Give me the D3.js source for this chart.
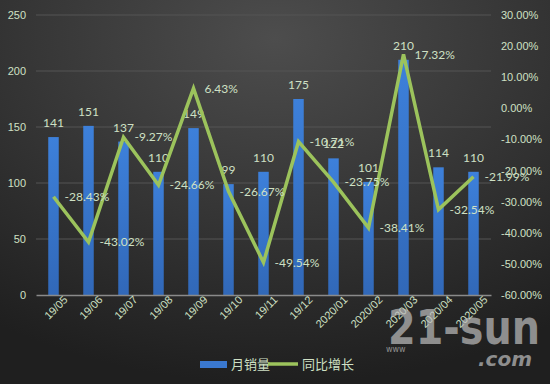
<!DOCTYPE html>
<html>
<head>
<meta charset="utf-8">
<script src="https://cdn.jsdelivr.net/npm/d3@7"></script>
<style>
  html, body { margin: 0; padding: 0; background: #2a2a2a; }
  svg { display: block; font-family: Lato, "Noto Sans CJK SC", sans-serif; }
</style>
</head>
<body>
<div id="chart"></div>
<script>
// data
const months = ["19/05", "19/06", "19/07", "19/08", "19/09", "19/10", "19/11", "19/12",
                "2020/01", "2020/02", "2020/03", "2020/04", "2020/05"];
const sales = [141, 151, 137, 110, 149, 99, 110, 175, 122, 101, 210, 114, 110];
const growth = [-28.43, -43.02, -9.27, -24.66, 6.43, -26.67, -49.54, -10.71, -23.75, -38.41, 17.32, -32.54, -21.99];
const leftTicks = [0, 50, 100, 150, 200, 250];
const rightTicks = [30, 20, 10, 0, -10, -20, -30, -40, -50, -60];
const legendNames = ["月销量", "同比增长"];

const W = 550, H = 384;
const margin = { top: 15, right: 59, bottom: 89, left: 36 },
    width = W - margin.left - margin.right,
    height = H - margin.top - margin.bottom;

const txt = "#cfe0c4";
const barColor = "#3a78cf";
const lineColor = "#9cc35c";

const root = d3.select("#chart").append("svg")
    .attr("width", W)
    .attr("height", H);

// background gradient
const defs = root.append("defs");
const bg = defs.append("radialGradient")
    .attr("id", "bg")
    .attr("cx", "50%").attr("cy", "10%").attr("r", "90%");
bg.append("stop").attr("offset", "0%").attr("stop-color", "#4d4d4d");
bg.append("stop").attr("offset", "100%").attr("stop-color", "#1f1f1f");
const barGrad = defs.append("linearGradient")
    .attr("id", "barGrad").attr("x1", 0).attr("x2", 0).attr("y1", 0).attr("y2", 1);
barGrad.append("stop").attr("offset", "0%").attr("stop-color", "#3d80da");
barGrad.append("stop").attr("offset", "100%").attr("stop-color", "#3168b8");

root.append("rect").attr("width", W).attr("height", H).attr("fill", "url(#bg)");

const svg = root.append("g")
    .attr("transform", `translate(${margin.left},${margin.top})`);

const x = d3.scaleBand().domain(months).range([0, width]).padding(0);
const y = d3.scaleLinear().domain([0, 250]).range([height, 0]);
const y2 = d3.scaleLinear().domain([-60, 30]).range([height, 0]);

// grid lines
svg.append("g")
    .selectAll("line")
    .data(leftTicks.filter(d => d > 0))
    .join("line")
    .attr("x1", 0).attr("x2", width)
    .attr("y1", d => y(d)).attr("y2", d => y(d))
    .attr("stroke", "#555")
    .attr("stroke-width", 1);

// left axis
const yAxis = svg.append("g")
    .call(d3.axisLeft(y).tickValues(leftTicks).tickSize(0).tickPadding(10));
yAxis.select(".domain").remove();
yAxis.selectAll("text").attr("fill", txt).attr("font-size", "11px");

// right axis
const yAxis2 = svg.append("g")
    .attr("transform", `translate(${width},0)`)
    .call(d3.axisRight(y2).tickValues(rightTicks).tickSize(0).tickPadding(10)
        .tickFormat(d => d.toFixed(2) + "%"));
yAxis2.select(".domain").remove();
yAxis2.selectAll("text").attr("fill", txt).attr("font-size", "11px");

// bars
const barW = x.bandwidth() * 0.3;
svg.append("g")
    .selectAll("rect")
    .data(sales)
    .join("rect")
    .attr("x", (d, i) => x(months[i]) + (x.bandwidth() - barW) / 2)
    .attr("y", d => y(d))
    .attr("width", barW)
    .attr("height", d => height - y(d))
    .attr("fill", "url(#barGrad)");

// x axis
const xAxis = svg.append("g")
    .attr("transform", `translate(0,${height})`)
    .call(d3.axisBottom(x).tickSize(0).tickPadding(10));
xAxis.select(".domain").attr("stroke", "#8a8a8a").attr("stroke-width", 1.5);
xAxis.selectAll("text")
    .attr("fill", txt)
    .attr("font-size", "11px")
    .attr("text-anchor", "end")
    .attr("dx", "0.6em")
    .attr("dy", "0.4em")
    .attr("transform", "rotate(-45)");

// bar labels
svg.append("g")
    .selectAll("text")
    .data(sales)
    .join("text")
    .attr("x", (d, i) => x(months[i]) + x.bandwidth() / 2)
    .attr("y", d => y(d) - 10)
    .attr("text-anchor", "middle")
    .attr("fill", txt)
    .attr("font-size", "12px")
    .text(d => d);

// growth line
const line = d3.line()
    .x((d, i) => x(months[i]) + x.bandwidth() / 2)
    .y(d => y2(d));
svg.append("path")
    .datum(growth)
    .attr("fill", "none")
    .attr("stroke", lineColor)
    .attr("stroke-width", 3.5)
    .attr("stroke-linejoin", "miter")
    .attr("d", line);

// growth labels
svg.append("g")
    .selectAll("text")
    .data(growth)
    .join("text")
    .attr("x", (d, i) => x(months[i]) + x.bandwidth() / 2 + 11)
    .attr("y", d => y2(d))
    .attr("dy", "0.35em")
    .attr("fill", txt)
    .attr("font-size", "12px")
    .text(d => d.toFixed(2) + "%");

// watermark
const wm = root.append("g").attr("fill", "#bdbdbd").attr("opacity", 0.7);
wm.append("text")
    .attr("x", 388).attr("y", 344)
    .attr("font-size", "48px")
    .attr("font-weight", "bold")
    .attr("textLength", 152)
    .attr("lengthAdjust", "spacingAndGlyphs")
    .attr("font-family", "'DejaVu Sans', sans-serif")
    .text("21-sun");
wm.append("text")
    .attr("x", 386).attr("y", 352)
    .attr("font-size", "8px")
    .attr("font-family", "'DejaVu Sans', sans-serif")
    .text("www");
wm.append("text")
    .attr("x", 478).attr("y", 366)
    .attr("font-size", "20px")
    .attr("font-style", "italic")
    .attr("font-weight", "bold")
    .attr("font-family", "'DejaVu Sans', sans-serif")
    .text(".com");

// legend
const legend = root.append("g").attr("transform", "translate(200,364)");
legend.append("rect")
    .attr("x", 0).attr("y", -3)
    .attr("width", 27).attr("height", 7)
    .attr("fill", barColor);
legend.append("text")
    .attr("x", 31).attr("y", 0).attr("dy", "0.35em")
    .attr("fill", txt).attr("font-size", "13px")
    .text(legendNames[0]);
legend.append("line")
    .attr("x1", 68).attr("x2", 98)
    .attr("y1", 0).attr("y2", 0)
    .attr("stroke", lineColor).attr("stroke-width", 3.5);
legend.append("text")
    .attr("x", 102).attr("y", 0).attr("dy", "0.35em")
    .attr("fill", txt).attr("font-size", "13px")
    .text(legendNames[1]);
</script>
</body>
</html>
